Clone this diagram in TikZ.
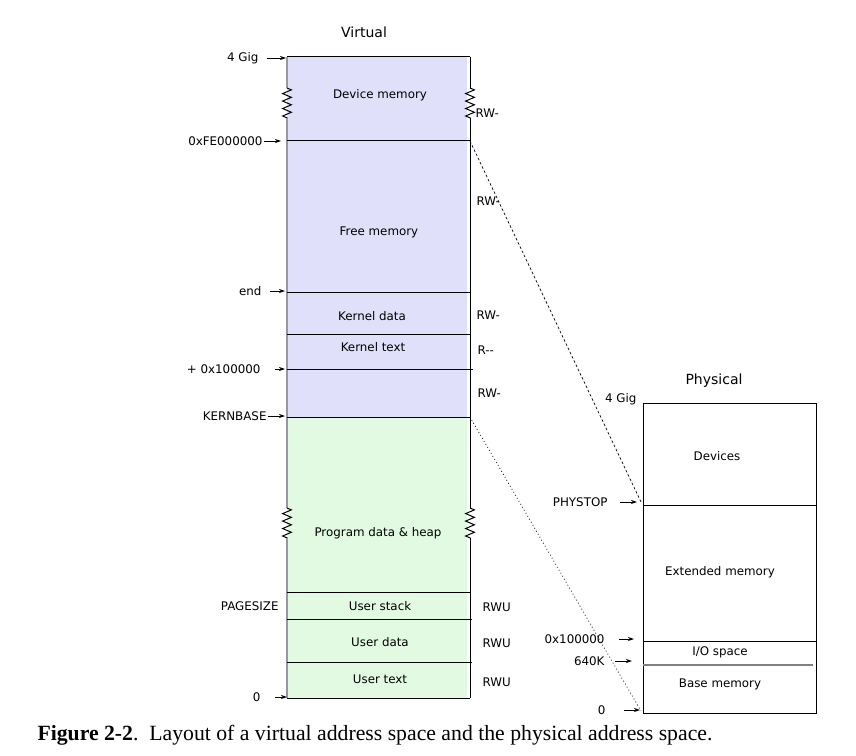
\documentclass[tikz,border=0pt]{standalone}
\usepackage{fontspec}
\setmainfont{Liberation Serif}
\newfontfamily\labelfont{DejaVu Sans}
\usetikzlibrary{arrows.meta,decorations.pathmorphing}

\definecolor{kernblue}{RGB}{224,224,250}
\definecolor{usergreen}{RGB}{226,250,226}
\definecolor{edgegray}{RGB}{150,150,165}

\tikzset{every picture/.style={line width=0.75pt}}
\tikzset{
  lbl/.style={inner sep=0.75pt, font=\labelfont\fontsize{8.9}{10}\selectfont},
  ttl/.style={inner sep=0.75pt, font=\labelfont\fontsize{10.5}{12}\selectfont},
  ptr/.style={-{Stealth[length=4.5pt,width=3pt]}, line width=0.6pt},
  wiggle/.style={decorate, decoration={zigzag, segment length=5.6pt, amplitude=3.3pt}},
  bound/.style={line width=0.75pt},
}

\begin{document}
\begin{tikzpicture}[x=0.75pt,y=0.75pt,yscale=-1,xscale=1]
	\useasboundingbox (0,0) rectangle (856,756);
	
	%Virtual address space: fills
	\fill[kernblue] (287,57) rectangle (467,417);
	\fill[usergreen] (287,417) rectangle (467,698);
	
	%Virtual: edges with breaks
	\draw[edgegray, line width=2pt] (287,57) -- (287,88);
	\draw[wiggle] (287,88) -- (287,118);
	\draw[edgegray, line width=2pt] (287,118) -- (287,508);
	\draw[wiggle] (287,508) -- (287,538);
	\draw[edgegray, line width=2pt] (287,538) -- (287,698);
	\draw (470,57) -- (470,88);
	\draw[wiggle] (470,88) -- (470,118);
	\draw (470,118) -- (470,508);
	\draw[wiggle] (470,508) -- (470,538);
	\draw (470,538) -- (470,698);
	
	%Virtual: boundaries
	\coordinate (vtop) at (287,57);
	\coordinate (vdev) at (287,141);
	\coordinate (vend) at (287,292);
	\coordinate (vmb) at (287,369);
	\coordinate (vkbase) at (287,417);
	\coordinate (vzero) at (287,698);
	\draw[bound] (vtop) -- (470,57);
	\draw[bound] (vdev) -- (470,141) coordinate (vdevr);
	\draw[bound] (vend) -- (470,292);
	\draw[bound] (287,334) -- (470,334);
	\draw[bound] (vmb) -- (473,369);
	\draw[bound] (vkbase) -- (470,417) coordinate (vkbaser);
	\draw[bound] (287,592) -- (470,592);
	\draw[bound] (287,619) -- (472,619);
	\draw[bound] (287,662) -- (472,662);
	\draw[bound] (vzero) -- (470,698);
	
	%Virtual: region names
	\node[ttl] (virt) at (364,32) {Virtual};
	\node[lbl] (devmem) at (380,95) {Device memory};
	\node[lbl] (freemem) at (379,232) {Free memory};
	\node[lbl] (kdata) at (372,316) {Kernel data};
	\node[lbl] (ktext) at (373,347) {Kernel text};
	\node[lbl] (heap) at (378,533) {Program data \& heap};
	\node[lbl] (ustack) at (380,606) {User stack};
	\node[lbl] (udata) at (380,642) {User data};
	\node[lbl] (utext) at (380,679) {User text};
	
	%Virtual: permissions
	\node[lbl, anchor=west] (p1) at (474,113) {RW-};
	\node[lbl, anchor=west] (p2) at (475,201) {RW-};
	\node[lbl, anchor=west] (p3) at (475,315) {RW-};
	\node[lbl, anchor=west] (p4) at (476,350) {R-{}-};
	\node[lbl, anchor=west] (p5) at (476,393) {RW-};
	\node[lbl, anchor=west] (p6) at (481,607) {RWU};
	\node[lbl, anchor=west] (p7) at (481,643) {RWU};
	\node[lbl, anchor=west] (p8) at (481,682) {RWU};
	
	%Virtual: addresses
	\node[lbl, anchor=east] (a4g) at (260,58) {4 Gig};
	\node[lbl, anchor=east] (adev) at (264,141) {0xFE000000};
	\node[lbl, anchor=east] (aend) at (263,291) {end};
	\node[lbl, anchor=east] (amb) at (262,369) {+ 0x100000};
	\node[lbl, anchor=east] (akb) at (268,416) {KERNBASE};
	\node[lbl, anchor=east] (apg) at (280,606) {PAGESIZE};
	\node[lbl, anchor=east] (azero) at (262,697) {0};
	\draw[ptr, shorten <=5] (a4g.east) -- (286,58);
	\draw[ptr] (adev.east) -- (281,141);
	\draw[ptr, shorten <=5] (aend.east) -- (285,291);
	\draw[ptr, shorten <=10] (amb.east) -- (285,369);
	\draw[ptr] (akb.east) -- (285,416);
	\draw[ptr, shorten <=10] (azero.east) -- (287,697);
	
	%Physical address space
	\node[ttl] (phys) at (714,381) {Physical};
	\draw (643,403) rectangle (816,713);
	\draw (643,505) coordinate (pstop) -- (816,505);
	\draw (643,641) coordinate (pmb) -- (816,641);
	\draw[gray, line width=1pt] (643,665) -- (813,665);
	\coordinate (pzero) at (641,711);
	\coordinate (pstopl) at (641,502);
	\node[lbl] (devs) at (717,456) {Devices};
	\node[lbl] (extmem) at (720,572) {Extended memory};
	\node[lbl] (iosp) at (720,652) {I/O space};
	\node[lbl] (basemem) at (720,684) {Base memory};
	
	\node[lbl, anchor=east] (b4g) at (638,399) {4 Gig};
	\node[lbl, anchor=east] (bstop) at (609,502) {PHYSTOP};
	\node[lbl, anchor=east] (bmb) at (606,639) {0x100000};
	\node[lbl, anchor=east] (b640) at (606,661) {640K};
	\node[lbl, anchor=east] (bzero) at (607,710) {0};
	\draw[ptr, shorten <=8] (bstop.east) -- (637,502);
	\draw[ptr, shorten <=10] (bmb.east) -- (634,639);
	\draw[ptr, shorten <=7] (b640.east) -- (632,661);
	\draw[ptr, shorten <=13] (bzero.east) -- (640,710);
	
	%mapping
	\draw[dash pattern=on 2pt off 1.5pt, line width=0.5pt] (vdevr) -- (pstopl);
	\draw[dotted, line width=0.6pt] (vkbaser) -- (pzero);
	
	%caption
	\node[anchor=west, inner sep=0pt, font=\fontsize{16.3}{19}\selectfont] (cap) at (37,735) {\textbf{Figure 2-2}.\ \ Layout of a virtual address space and the physical address space.};
	
\end{tikzpicture}
\end{document}
